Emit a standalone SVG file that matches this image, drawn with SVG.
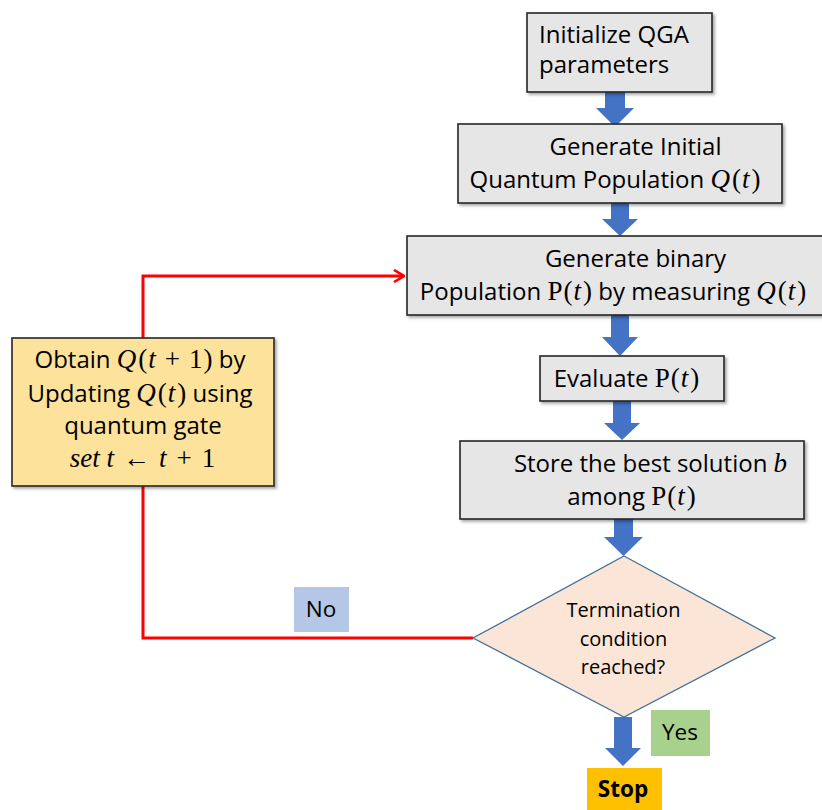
<svg xmlns="http://www.w3.org/2000/svg" width="822" height="810" viewBox="0 0 822 810">
<defs>
<filter id="sh" x="-10%" y="-10%" width="120%" height="130%">
<feDropShadow dx="2" dy="2" stdDeviation="1.8" flood-color="#000" flood-opacity="0.35"/>
</filter>
<marker id="chev" viewBox="0 0 12 14" refX="11" refY="7" markerWidth="12" markerHeight="14" markerUnits="userSpaceOnUse" orient="auto">
<path d="M1,1 L11,7 L1,13" fill="none" stroke="#FF0000" stroke-width="2.6" stroke-linejoin="miter"/>
</marker>
</defs>
<style>
.box{fill:#E7E6E6;stroke:#262626;stroke-width:1.6;filter:url(#sh)}
.t{font-family:"Open Sans","Liberation Sans",sans-serif;font-size:24px;fill:#000}
.l{font-family:"Open Sans","Liberation Sans",sans-serif;font-size:22.5px;fill:#000}
.m{font-family:"Liberation Serif",serif;font-size:27px}
.i{font-style:italic}
.d{font-family:"Open Sans","Liberation Sans",sans-serif;font-size:20px;fill:#000}
.barrow{fill:#4472C4}
.red{fill:none;stroke:#FF0000;stroke-width:3}
</style>
<rect width="822" height="810" fill="#FFFFFF"/>

<g id="connectors">
<path class="red" d="M473,638 H143 V276 H404" marker-end="url(#chev)"/>
<path class="barrow" d="M605,92 H625 V108 H634 L615,127 L596,108 H605 Z"/>
<path class="barrow" d="M611,203 H629 V219 H638 L620,236 L602,219 H611 Z"/>
<path class="barrow" d="M611,315 H629 V337 H638 L620,356 L602,337 H611 Z"/>
<path class="barrow" d="M613,401 H631 V423 H640 L622,440 L604,423 H613 Z"/>
<path class="barrow" d="M614,519 H633 V537 H643 L623.5,556 L604,537 H614 Z"/>
<path class="barrow" d="M614,717 H632 V748 H641 L623,766 L605,748 H614 Z"/>
</g>

<g id="node-init">
<rect class="box" x="527" y="13" width="185" height="79"/>
<text class="t" x="539" y="43">Initialize QGA</text>
<text class="t" x="539" y="73">parameters</text>
</g>

<g id="node-generate-initial">
<rect class="box" x="458" y="124" width="324" height="79"/>
<text class="t" x="635.5" y="155" text-anchor="middle">Generate Initial</text>
<text class="t" x="615" y="188" text-anchor="middle">Quantum Population <tspan class="m i">Q</tspan><tspan class="m" dx="2">(</tspan><tspan class="m i" dx="1">t</tspan><tspan class="m" dx="2">)</tspan></text>
</g>

<g id="node-generate-binary">
<rect class="box" x="407" y="236" width="420" height="79"/>
<text class="t" x="635.5" y="267" text-anchor="middle">Generate binary</text>
<text class="t" x="613" y="300" text-anchor="middle">Population <tspan class="m">P</tspan><tspan class="m" dx="1">(</tspan><tspan class="m i" dx="1">t</tspan><tspan class="m" dx="2">)</tspan> by measuring <tspan class="m i">Q</tspan><tspan class="m" dx="2">(</tspan><tspan class="m i" dx="1">t</tspan><tspan class="m" dx="2">)</tspan></text>
</g>

<g id="node-evaluate">
<rect class="box" x="540" y="356" width="184" height="45"/>
<text class="t" x="626.5" y="387" text-anchor="middle">Evaluate <tspan class="m">P</tspan><tspan class="m" dx="1">(</tspan><tspan class="m i" dx="1">t</tspan><tspan class="m" dx="2">)</tspan></text>
</g>

<g id="node-store">
<rect class="box" x="460" y="441" width="344" height="78"/>
<text class="t" x="650.5" y="472" text-anchor="middle">Store the best solution <tspan class="m i">b</tspan></text>
<text class="t" x="631.5" y="505" text-anchor="middle">among <tspan class="m">P</tspan><tspan class="m" dx="1">(</tspan><tspan class="m i" dx="1">t</tspan><tspan class="m" dx="2">)</tspan></text>
</g>

<g id="node-termination">
<polygon points="624,556 775,638 624,717 473,638" fill="#FBE5D6" stroke="#41719C" stroke-width="1.3"/>
<text class="d" x="623.5" y="617" text-anchor="middle">Termination</text>
<text class="d" x="623.5" y="646" text-anchor="middle">condition</text>
<text class="d" x="623" y="674" text-anchor="middle">reached?</text>
</g>

<g id="node-update">
<rect x="12" y="338" width="262" height="148" fill="#FCE29B" stroke="#262626" stroke-width="1.6" filter="url(#sh)"/>
<text class="t" x="140" y="368" text-anchor="middle">Obtain <tspan class="m i">Q</tspan><tspan class="m" dx="2">(</tspan><tspan class="m i" dx="1">t</tspan><tspan class="m" dx="9">+</tspan><tspan class="m" dx="9">1</tspan><tspan class="m" dx="1">)</tspan> by</text>
<text class="t" x="140" y="402" text-anchor="middle">Updating <tspan class="m i">Q</tspan><tspan class="m" dx="2">(</tspan><tspan class="m i" dx="1">t</tspan><tspan class="m" dx="2">)</tspan> using</text>
<text class="t" x="143" y="434" text-anchor="middle">quantum gate</text>
<text class="m" x="142.5" y="467" text-anchor="middle"><tspan class="i">set t</tspan><tspan dx="9">←</tspan><tspan class="i" dx="9">t</tspan><tspan dx="10">+</tspan><tspan dx="10">1</tspan></text>
</g>

<g id="label-no">
<rect x="294" y="587" width="55" height="45" fill="#B4C7E7"/>
<text class="l" x="321" y="617" text-anchor="middle">No</text>
</g>

<g id="label-yes">
<rect x="651" y="710" width="59" height="46" fill="#A9D18E"/>
<text class="l" x="680" y="740" text-anchor="middle">Yes</text>
</g>

<g id="node-stop">
<rect x="587" y="768" width="75" height="50" fill="#FFC000"/>
<text class="l" x="623" y="797" text-anchor="middle" font-weight="bold">Stop</text>
</g>
</svg>
